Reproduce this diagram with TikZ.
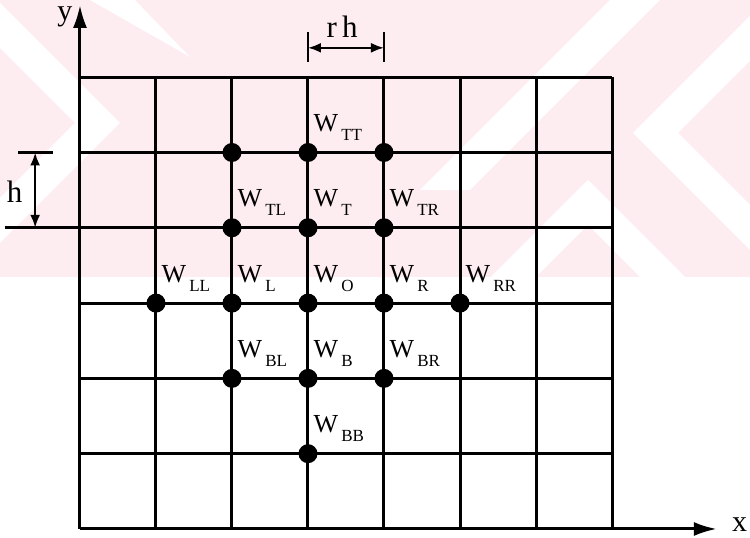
\documentclass[tikz,border=0pt]{standalone}
\usepackage{fontspec}
\setmainfont{Liberation Serif}
\usetikzlibrary{arrows.meta}
\definecolor{wmpink}{RGB}{253,236,240}
\tikzset{
  gridline/.style={line width=1.5pt}, % grid and axes
  dimline/.style={line width=1.1pt},
  dot/.style={circle, fill=black, inner sep=0pt, minimum size=9.5pt},
  wlab/.style={anchor=base west, inner sep=0pt, font=\fontsize{13}{14}\selectfont},
  axislab/.style={inner sep=0pt, font=\fontsize{15}{16}\selectfont},
  dimlab/.style={anchor=base, inner sep=0pt, font=\fontsize{15.5}{16}\selectfont},
  dimtip/.style={{Latex[length=6.5pt,width=5pt]}-{Latex[length=6.5pt,width=5pt]}},
}
\newcommand{\wsub}[1]{W\kern1.5pt\raisebox{-4.5pt}{\fontsize{8.5}{9}\selectfont #1}}

\begin{document}
\begin{tikzpicture}[x=38pt, y=37.65pt, >={Latex[length=11.5pt,width=7pt]}]
  \useasboundingbox (-1.0526,-0.1195) rectangle (8.8158,7.0252);
  % faint watermark behind the grid
  \begin{scope}[shift={(-1.0526,7.0252)}, x=0.5pt, y=-0.5pt]
    \fill[wmpink] (0,0) rectangle (750,277);
    \fill[white] (0,3) -- (120,123) -- (0,243) -- (0,198) -- (75,123) -- (0,48) -- cycle;
    \fill[white] (90,0) -- (135,0) -- (190,57) -- cycle;
    \fill[white] (610,0) -- (660,0) -- (470,190) -- (420,190) -- cycle;
    \fill[white] (750,16) -- (633,133) -- (750,250) -- (750,205) -- (678,133) -- (750,61) -- cycle;
    \fill[white] (491,277) -- (588,180) -- (685,277) -- (640,277) -- (588,225) -- (536,277) -- cycle;
  \end{scope}

  % mesh
  \foreach \i in {0,...,7}
    \draw[gridline] (\i,0) -- (\i,6);
  \foreach \j in {1,...,6}
    \draw[gridline] (0,\j) -- (7,\j);
  \draw[gridline] (-0.99,4) -- (0,4);

  % axes
  \coordinate (orig) at (0,0);
  \coordinate (ytip) at (0,6.96);
  \coordinate (xtip) at (8.38,0);
  \draw[gridline,->] (orig) -- (ytip);
  \draw[gridline,->] (orig) -- (xtip);
  \node[axislab] (ylab) at (-0.2,6.8) {y};
  \node[axislab] (xlab) at (8.68,0.06) {x};

  % r h
  \coordinate (rhLa) at (3,6.2);
  \coordinate (rhLb) at (3,6.6);
  \coordinate (rhRa) at (4,6.2);
  \coordinate (rhRb) at (4,6.6);
  \coordinate (rhL) at (3,6.39);
  \coordinate (rhR) at (4,6.39);
  \draw[dimline] (rhLa) -- (rhLb);
  \draw[dimline] (rhRa) -- (rhRb);
  \draw[dimline,dimtip] (rhL) -- (rhR);
  \node[dimlab] (rhlab) at (3.45,6.53) {r\,h};

  % h
  \coordinate (hTa) at (-0.816,5);
  \coordinate (hTb) at (-0.355,5);
  \coordinate (hT) at (-0.59,5);
  \coordinate (hB) at (-0.59,4);
  \draw[dimline] (hTa) -- (hTb);
  \draw[dimline,dimtip] (hT) -- (hB);
  \node[dimlab] (hlab) at (-0.86,4.34) {h};

  % stencil points
  \foreach \n/\x/\y in {ul/2/5, TT/3/5, ur/4/5,
                        TL/2/4, T/3/4, TR/4/4,
                        LL/1/3, L/2/3, O/3/3, R/4/3, RR/5/3,
                        BL/2/2, B/3/2, BR/4/2,
                        BB/3/1}
    \node[dot] (\n) at (\x,\y) {};
  \foreach \n in {TT,TL,T,TR,LL,L,O,R,RR,BL,B,BR,BB}
    \node[wlab] (l\n) at ([shift={(0.07,0.28)}]\n.center) {\wsub{\n}};
\end{tikzpicture}
\end{document}
